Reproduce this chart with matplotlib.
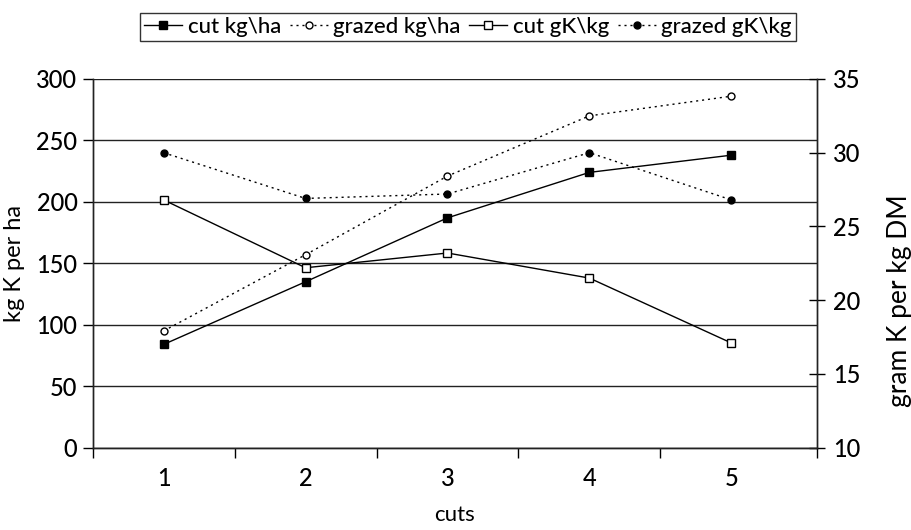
import matplotlib
matplotlib.use('Agg')
import matplotlib.pyplot as plt
from matplotlib.ticker import FixedLocator, NullFormatter

# data
cuts = [1, 2, 3, 4, 5]
cut_kg_ha = [84, 135, 187, 224, 238]
grazed_kg_ha = [95, 157, 221, 270, 286]
cut_gk_kg = [26.8, 22.2, 23.2, 21.5, 17.1]
grazed_gk_kg = [30.0, 26.9, 27.2, 30.0, 26.8]

left_ticks = [0, 50, 100, 150, 200, 250, 300]
right_ticks = [10, 15, 20, 25, 30, 35]

plt.rcParams['font.family'] = ['Lato', 'DejaVu Sans']
plt.rcParams['font.weight'] = 'medium'
TICK_FS = 17
LABEL_FS = 16
DOTS = (0, (1.5, 2.8))

fig = plt.figure(figsize=(9.12, 5.30), dpi=100)
ax = fig.add_axes([0.1016, 0.1553, 0.7937, 0.6957])
ax2 = ax.twinx()

# gridlines at the left axis ticks
for v in left_ticks:
    ax.axhline(v, color='#222222', lw=1.0, zorder=0)

l1, = ax.plot(cuts, cut_kg_ha, color='black', lw=1.0, marker='s',
              markersize=5.5, markerfacecolor='black', label='cut kg\\ha')
l2, = ax.plot(cuts, grazed_kg_ha, color='black', lw=1.0, ls=DOTS, marker='o',
              markersize=5, markerfacecolor='white', label='grazed kg\\ha')
l3, = ax2.plot(cuts, cut_gk_kg, color='black', lw=1.0, marker='s',
               markersize=5.5, markerfacecolor='white', label='cut gK\\kg')
l4, = ax2.plot(cuts, grazed_gk_kg, color='black', lw=1.0, ls=DOTS, marker='o',
               markersize=5, markerfacecolor='black', label='grazed gK\\kg')

ax.set_xlim(0.5, 5.6)
ax.set_ylim(0, 300)
ax2.set_ylim(10, 35)

ax.set_xticks(cuts)
ax.set_xticklabels([str(c) for c in cuts], fontsize=TICK_FS)
ax.xaxis.set_minor_locator(FixedLocator([0.5, 1.5, 2.5, 3.5, 4.5, 5.6]))
ax.xaxis.set_minor_formatter(NullFormatter())
ax.tick_params(axis='x', which='major', length=0, pad=14)
ax.tick_params(axis='x', which='minor', length=7, width=1.0, direction='out')

ax.set_yticks(left_ticks)
ax.tick_params(axis='y', labelsize=TICK_FS, length=7, width=1.0, direction='out', pad=4)
ax2.set_yticks(right_ticks)
ax2.tick_params(axis='y', labelsize=TICK_FS, length=12, width=1.0, direction='inout', pad=6)

for a in (ax, ax2):
    for s in a.spines.values():
        s.set_linewidth(1.0)
        s.set_color('#222222')
ax.spines['top'].set_visible(False)
ax2.spines['top'].set_visible(False)

ax.set_ylabel('kg K per ha', fontsize=17, labelpad=8)
ax2.set_ylabel('gram K per kg DM', fontsize=19, labelpad=12, rotation=90)
ax2.yaxis.set_label_coords(1.098, 0.40)
ax.set_xlabel('cuts', fontsize=LABEL_FS, labelpad=11)

leg = fig.legend(handles=[l1, l2, l3, l4], loc='center', ncol=4,
                 bbox_to_anchor=(468 / 912, 1 - 27 / 530), fontsize=LABEL_FS,
                 frameon=True, fancybox=False, handlelength=1.7,
                 handletextpad=0.25, columnspacing=0.4, borderpad=0.2,
                 borderaxespad=0)
leg.get_frame().set_edgecolor('black')
leg.get_frame().set_linewidth(1.0)

fig.savefig('out.png', dpi=100)
